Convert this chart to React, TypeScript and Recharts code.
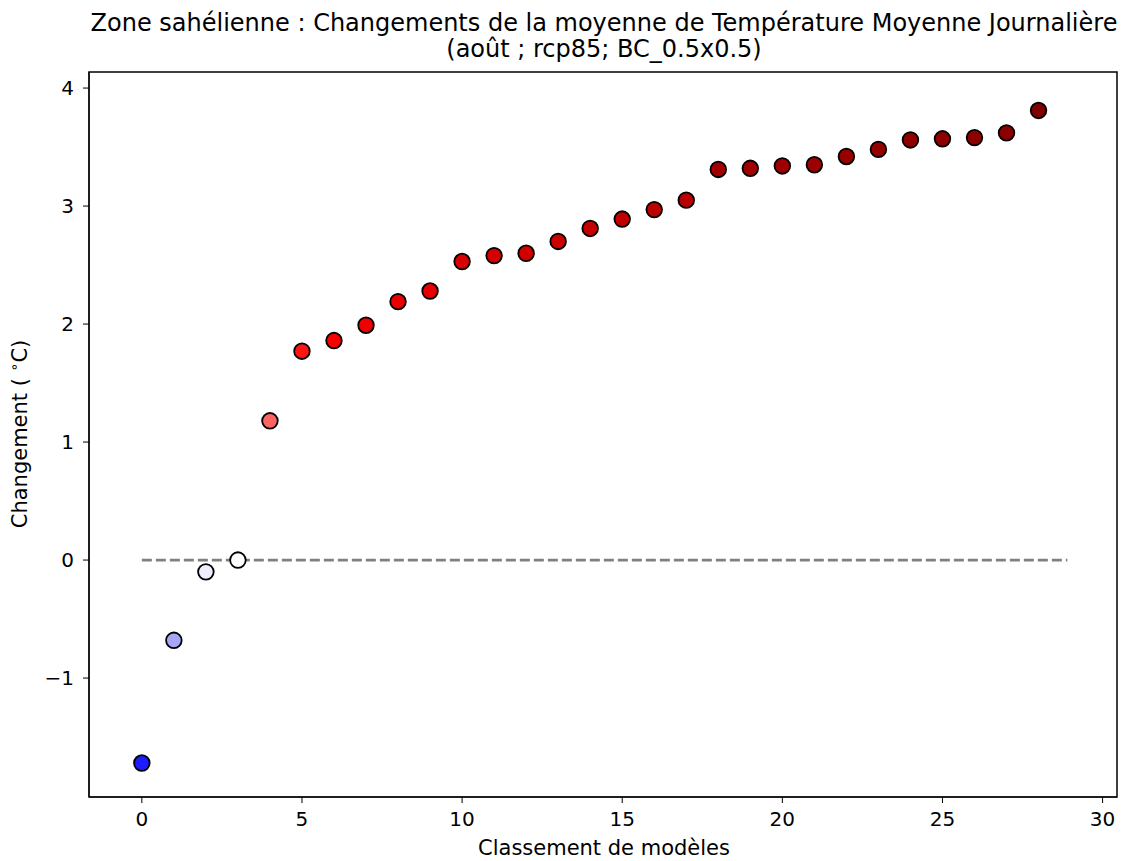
import React from "react";
import { ScatterChart, Scatter, XAxis, YAxis, Cell, ReferenceLine, ReferenceArea } from "recharts";

const ranks = [0,1,2,3,4,5,6,7,8,9,10,11,12,13,14,15,16,17,18,19,20,21,22,23,24,25,26,27,28];
const changes = [-1.72,-0.68,-0.10,0.00,1.18,1.77,1.86,1.99,2.19,2.28,2.53,2.58,2.60,2.70,2.81,2.89,2.97,3.05,3.31,3.32,3.34,3.35,3.42,3.48,3.56,3.57,3.58,3.62,3.81];
const colors = ["#1c1cff","#a6a6f6","#eeeeff","#ffffff","#ff6464","#ff1414","#f60000","#f00000","#ea0000","#e60000","#d80000","#d20000","#d00000","#cc0000","#c60000","#c20000","#bc0000","#b80000","#a20000","#a00000","#9e0000","#9c0000","#980000","#940000","#900000","#8e0000","#8c0000","#8a0000","#800000"];
const xTicks = [0,5,10,15,20,25,30];
const yTicks = [-1,0,1,2,3,4];
const zeroLine = [{ x: 0, y: 0 }, { x: 28.9, y: 0 }];
const titleLines = ["Zone sahélienne : Changements de la moyenne de Température Moyenne Journalière", "(août ; rcp85; BC_0.5x0.5)"];
const xLabel = "Classement de modèles";

const X_DOMAIN: [number, number] = [-1.65, 30.45];
const Y_DOMAIN: [number, number] = [-2.008, 4.136];

const data = ranks.map((r, i) => ({ x: r, y: changes[i] }));
const font = "DejaVu Sans, sans-serif";

const fmtY = (v: number) => (v < 0 ? "\u2212" + Math.abs(v) : String(v));

const Dot = (props: any) => (
  <circle cx={props.cx} cy={props.cy} r={7.8} fill={props.fill} stroke="#000" strokeWidth={1.8} />
);

export default function App() {
  return (
    <div style={{ position: "absolute", left: 0, top: 0, width: 1122, height: 861, background: "#fff" }}>
      <ScatterChart width={1122} height={861} margin={{ top: 72, right: 5, bottom: 0, left: 0 }}>
        <text x={604} y={31} textAnchor="middle" fontFamily={font} fontSize={24} fill="#000">{titleLines[0]}</text>
        <text x={604} y={57} textAnchor="middle" fontFamily={font} fontSize={24} fill="#000">{titleLines[1]}</text>
        <text x={604} y={855} textAnchor="middle" fontFamily={font} fontSize={21} fill="#000">{xLabel}</text>
        <XAxis
          type="number"
          dataKey="x"
          domain={X_DOMAIN}
          ticks={xTicks}
          allowDataOverflow
          height={64}
          stroke="#000"
          tickSize={6}
          tick={{ fontFamily: font, fontSize: 20, fill: "#000" }}
          tickMargin={9}
        />
        <YAxis
          type="number"
          dataKey="y"
          domain={Y_DOMAIN}
          ticks={yTicks}
          allowDataOverflow
          width={89}
          stroke="#000"
          tickSize={6}
          tickFormatter={fmtY}
          tick={{ fontFamily: font, fontSize: 20, fill: "#000" }}
          tickMargin={9}
          label={() => {
            const cy = 434;
            const cx = 27;
            return (
              <text x={cx} y={cy} transform={`rotate(-90 ${cx} ${cy})`} textAnchor="middle" fontFamily={font} fontSize={21} fill="#000">
                Changement ( <tspan fontSize={14} dy={-8}>{"\u2218"}</tspan><tspan dy={8}>C)</tspan>
              </text>
            );
          }}
        />
        <ReferenceArea x1={X_DOMAIN[0]} x2={X_DOMAIN[1]} y1={Y_DOMAIN[0]} y2={Y_DOMAIN[1]} fill="none" stroke="#000" strokeWidth={1.5} strokeOpacity={1} fillOpacity={0} />
        <ReferenceLine segment={zeroLine} stroke="#808080" strokeWidth={2.7} strokeDasharray="10 4" />
        <Scatter data={data} isAnimationActive={false} shape={Dot}>
          {data.map((d, i) => (
            <Cell key={i} fill={colors[i]} />
          ))}
        </Scatter>
      </ScatterChart>
    </div>
  );
}
